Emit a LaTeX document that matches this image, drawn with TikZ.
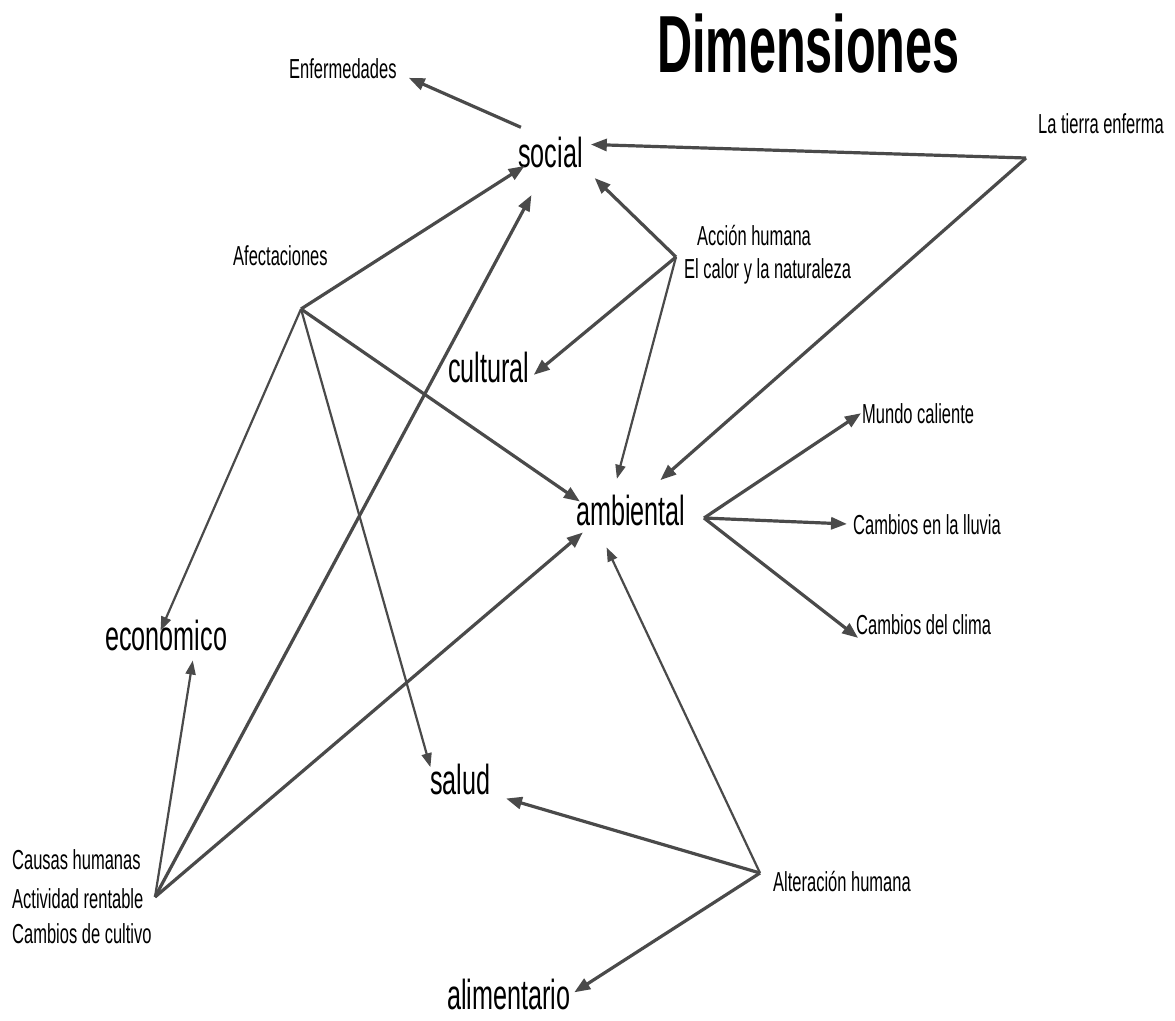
\documentclass[tikz,border=0pt]{standalone}
\usepackage{fontspec}
\setmainfont{Liberation Sans}[FakeStretch=0.6]
\usetikzlibrary{arrows.meta}

\definecolor{linegray}{HTML}{4A4A4A}

\begin{document}
\begin{tikzpicture}[x=1pt, y=-1pt,
  dim/.style={anchor=base west, inner sep=1pt, font=\fontsize{42}{44}\selectfont},
  note/.style={anchor=base west, inner sep=1pt, font=\fontsize{27.5}{30}\selectfont},
  arr/.style={draw=linegray, line width=3.2pt, -{Triangle[length=16pt,width=12pt]}},
  arrthin/.style={draw=linegray, line width=2.2pt, -{Triangle[length=14pt,width=10pt]}}]

\useasboundingbox (0,0) rectangle (1175,1020);

%─────────────
% Title
%─────────────
\node[anchor=base west, inner sep=1pt, font=\fontsize{81}{84}\selectfont\bfseries]
  (title) at (656,72) {Dimensiones};

%─────────────
% Dimensions (big words)
%─────────────
\node[dim] (social)      at (517,167)  {social};
\node[dim] (cultural)    at (447,382)  {cultural};
\node[dim] (ambiental)   at (575,525)  {ambiental};
\node[dim] (economico)   at (104,650)  {económico};
\node[dim] (salud)       at (429,794)  {salud};
\node[dim] (alimentario) at (446,1009) {alimentario};

%─────────────
% Small labels
%─────────────
\node[note] (enferm)    at (288,78)  {Enfermedades};
\node[note] (tierra)    at (1037,133) {La tierra enferma};
\node[note] (afect)     at (232,265) {Afectaciones};
\node[note] (accion)    at (696,245) {Acción humana};
\node[note] (calor)     at (683,278) {El calor y la naturaleza};
\node[note] (mundo)     at (861,423) {Mundo caliente};
\node[note] (lluvia)    at (852,534) {Cambios en la lluvia};
\node[note] (clima)     at (855,634) {Cambios del clima};
\node[note] (causas)    at (11,869)  {Causas humanas};
\node[note] (actividad) at (11,908)  {Actividad rentable};
\node[note] (cultivo)   at (11,943)  {Cambios de cultivo};
\node[note] (alter)     at (772,891) {Alteración humana};

%─────────────
% Hubs where the arrows start
%─────────────
\coordinate (tierraH) at (1026,158);
\coordinate (afectH)  at (301,309);
\coordinate (accionH) at (676,257);
\coordinate (ambH)    at (704,518);
\coordinate (causasH) at (155,897);
\coordinate (alterH)  at (760,873);

%─────────────
% Arrows
%─────────────
\draw[arr, shorten <=20pt, shorten >=12pt] (social.124) -- (enferm.-5.5);

% La tierra enferma
\draw[arr, shorten >=7pt]     (tierraH) -- (social.13.5);
\draw[arr, shorten >=20pt]    (tierraH) -- (ambiental.49.7);

% Afectaciones
\draw[arr, shorten >=-5pt]     (afectH) -- (social.209);
\draw[arrthin, shorten >=-14pt] (afectH) -- (economico.north);
\draw[arr, shorten >=-6pt]     (afectH) -- (ambiental.168.9);
\draw[arrthin, shorten >=-5pt] (afectH) -- (salud.152.3);

% Accion humana / El calor y la naturaleza
\draw[arr, shorten >=15pt]     (accionH) -- (social.-25.1);
\draw[arr, shorten >=4pt]      (accionH) -- (cultural.-14.8);
\draw[arrthin, shorten >=15pt] (accionH) -- (ambiental.137.5);

% ambiental
\draw[arr]                    (ambH) -- (mundo.west);
\draw[arr, shorten >=5pt]     (ambH) -- (lluvia.west);
\draw[arr, shorten >=-4pt]    (ambH) -- (clima.south west);

% Causas humanas
\draw[arrthin, shorten >=9pt] (causasH) -- (economico.-31.4);
\draw[arr, shorten >=30pt]    (causasH) -- (social.254.4);
\draw[arr, shorten >=9pt]     (causasH) -- (ambiental.202.9);

% Alteracion humana
\draw[arr, shorten >=15pt]     (alterH) -- (salud.-26.4);
\draw[arrthin, shorten >=23pt] (alterH) -- (ambiental.206.7);
\draw[arr, shorten >=3pt]      (alterH) -- (alimentario.east);

\end{tikzpicture}
\end{document}
